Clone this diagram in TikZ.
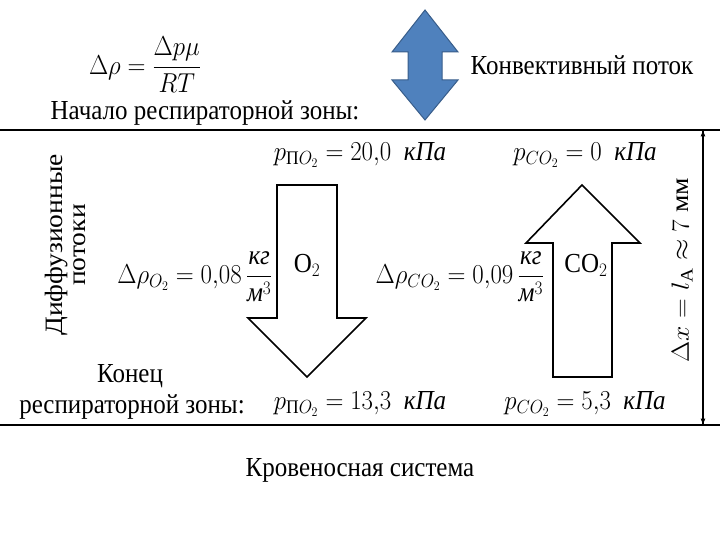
\documentclass[tikz,border=0pt]{standalone}
\usepackage{amsmath}
\usepackage{fontspec}
\setmainfont{Liberation Serif}
\begin{document}
\begin{tikzpicture}[x=1pt,y=-1pt,
  txt/.style={font=\fontsize{25}{29}\selectfont, inner sep=0pt, yscale=1.1},
  big/.style={draw=black, line width=2.5pt},
  fat/.style={draw=black, line width=1.6pt, fill=white}]
\useasboundingbox (0,0) rectangle (720,540);
% lines
\draw[big] (0,130) -- (720,130);
\draw[big] (0,425) -- (720,425);
\coordinate (t) at (703,130); \coordinate (b) at (703,425);
\draw[line width=1.2pt,-latex] (b) -- (t);
\draw[line width=1.2pt,-latex] (t) -- (b);
% blue double arrow
\filldraw[draw={rgb,255:red,56;green,93;blue,138}, line width=1pt, fill={rgb,255:red,79;green,129;blue,189}]
 (425,10) -- (458,52) -- (442,52) -- (442,80) -- (458,80) -- (425,120) -- (392,80) -- (408,80) -- (408,52) -- (392,52) -- cycle;
% O2 arrow
\draw[fat] (277,185) -- (337,185) -- (337,318) -- (366,318) -- (307,377) -- (248,318) -- (277,318) -- cycle;
% CO2 arrow
\draw[fat] (582,185) -- (640,243) -- (612,243) -- (612,377) -- (553,377) -- (553,243) -- (526,243) -- cycle;
% texts
\node[txt] (f) at (145,65) {$\Delta\rho=\dfrac{\Delta p\mu}{RT}$};
\node[txt] (k) at (582,65) {Конвективный поток};
\node[txt] (n) at (205,113) {Начало респираторной зоны:};
\node[txt,rotate=90] (d) at (68,245) {\begin{tabular}{c}Диффузионные\\[-6pt]потоки\end{tabular}};
\node[txt,rotate=90] (x) at (682,270) {$\Delta x = l_{\text{А}}\approx 7$ мм};
\node[txt] (p1) at (360,155) {$p_{\text{П}O_2}=20{,}0$\enspace\textit{кПа}};
\node[txt] (p2) at (585,155) {$p_{CO_2}=0$\enspace\textit{кПа}};
\node[txt] (r1) at (195,277) {$\Delta\rho_{O_2}=0{,}08\,\dfrac{\textit{кг}}{\textit{м}^3}$};
\node[txt] (o2) at (307,265) {O$_2$};
\node[txt] (r2) at (460,277) {$\Delta\rho_{CO_2}=0{,}09\,\dfrac{\textit{кг}}{\textit{м}^3}$};
\node[txt] (co2) at (586,265) {CO$_2$};
\node[txt] (c1) at (130,376) {Конец};
\node[txt] (c2) at (132,407) {респираторной зоны:};
\node[txt] (p3) at (360,404) {$p_{\text{П}O_2}=13{,}3$\enspace\textit{кПа}};
\node[txt] (p4) at (585,404) {$p_{CO_2}=5{,}3$\enspace\textit{кПа}};
\node[txt] (kr) at (360,470) {Кровеносная система};
\end{tikzpicture}
\end{document}
